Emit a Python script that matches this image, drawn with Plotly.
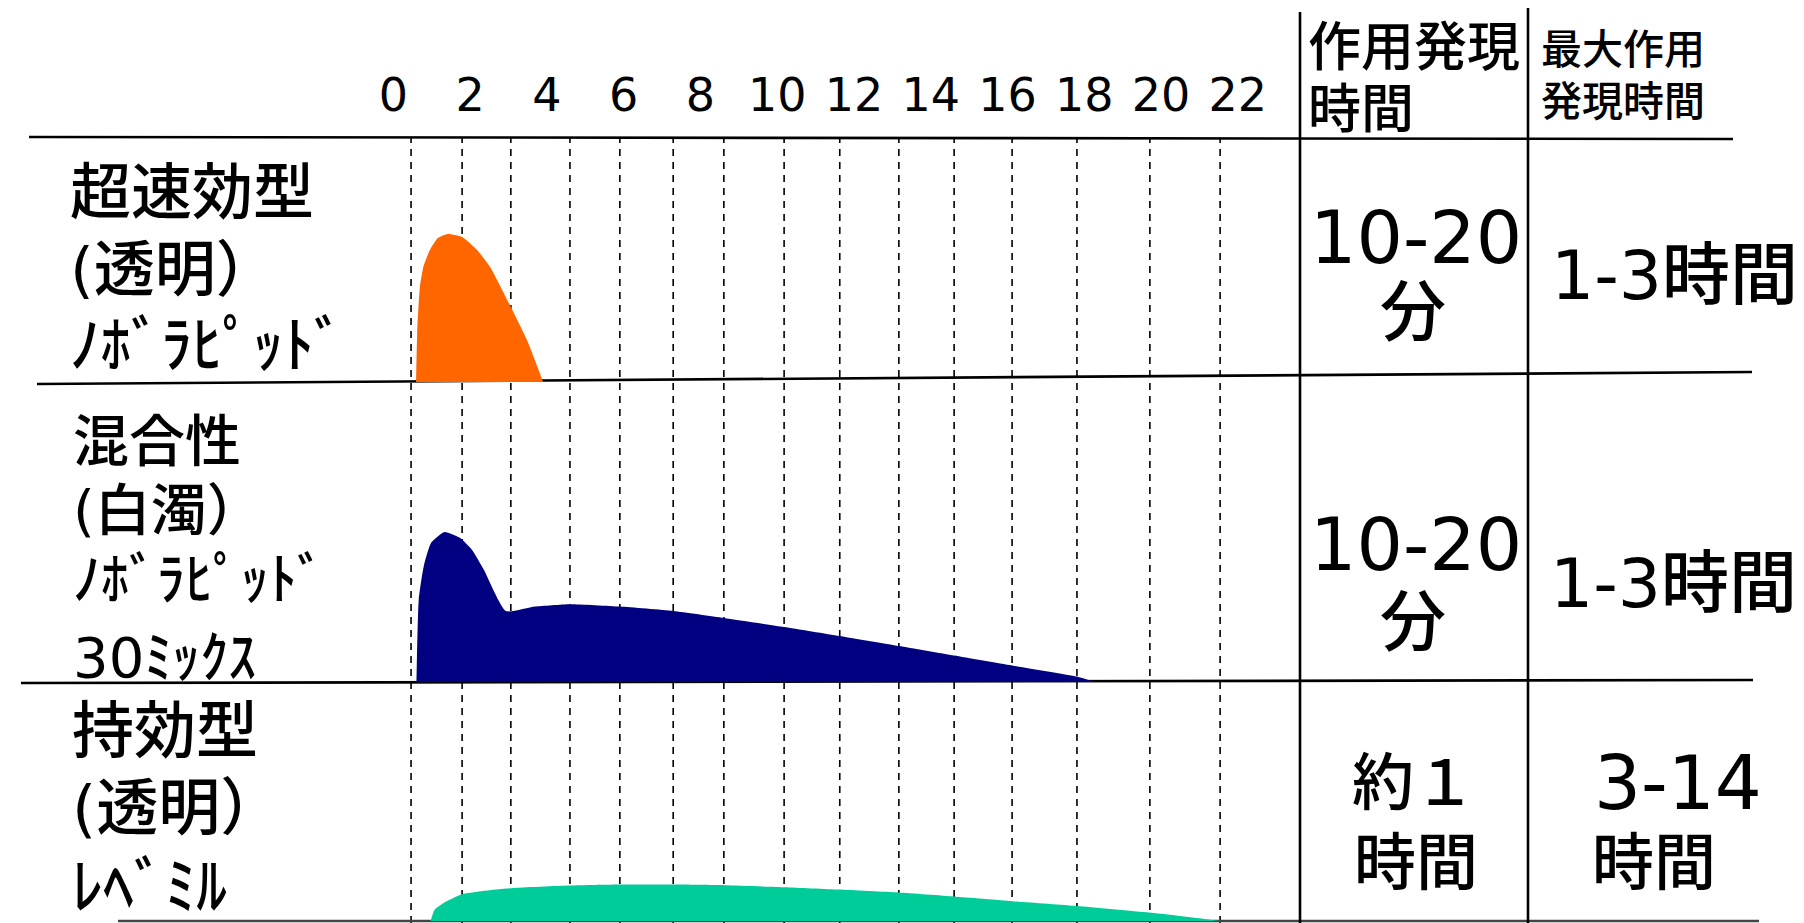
import plotly.graph_objects as go

W, H = 1804, 923

# ---------------- data ----------------
tick_hours = [0, 2, 4, 6, 8, 10, 12, 14, 16, 18, 20, 22]
tick_labels = ["0", "2", "4", "6", "8", "10", "12", "14", "16", "18", "20", "22"]

grid_hours = [0.46, 1.79, 3.06, 4.60, 5.90, 7.29, 8.61, 10.18, 11.63,
              13.17, 14.61, 16.12, 17.81, 19.71, 21.54]

# relative action curves (hours, relative effect)
rapid_t = [0.59, 0.62, 0.69, 0.78, 0.95, 1.16, 1.42, 1.79, 2.18, 2.52, 3.06, 3.48, 3.90]
rapid_v = [0.0, 0.245, 0.475, 0.575, 0.66, 0.72, 0.74, 0.725, 0.66, 0.575, 0.375, 0.21, 0.0]

mix_t = [0.60, 0.66, 0.79, 0.98, 1.33, 1.74, 2.05, 2.36, 2.93, 3.69, 4.59, 5.90,
         7.29, 8.61, 10.18, 11.62, 13.17, 14.61, 16.12, 17.80, 18.28]
mix_v = [0.0, 0.41, 0.577, 0.695, 0.75, 0.72, 0.66, 0.56, 0.355, 0.377, 0.389, 0.377,
         0.355, 0.32, 0.275, 0.23, 0.18, 0.1325, 0.0825, 0.0275, 0.0]

basal_t = [0.97, 1.07, 1.37, 1.79, 2.33, 3.08, 4.59, 5.90, 7.29, 8.63, 10.20,
           11.61, 13.17, 14.61, 16.13, 17.81, 19.69, 21.19, 21.56]
basal_v = [0.0, 0.055, 0.097, 0.134, 0.15, 0.164, 0.177, 0.182, 0.182, 0.179, 0.169,
           0.157, 0.142, 0.122, 0.099, 0.075, 0.042, 0.009, 0.0]

row_labels = [
    ["超速効型", "(透明）", "ﾉﾎﾞﾗﾋﾟｯﾄﾞ"],
    ["混合性", "(白濁）", "ﾉﾎﾞﾗﾋﾟｯﾄﾞ", "30ﾐｯｸｽ"],
    ["持効型", "(透明）", "ﾚﾍﾞﾐﾙ"],
]
onset_header = ["作用発現", "時間"]
peak_header = ["最大作用", "発現時間"]
onset_values = [["10-20", "分"], ["10-20", "分"], ["約１", "時間"]]
peak_values = [["1-3時間"], ["1-3時間"], ["3-14", "時間"]]

series_colors = ["#FF6600", "#000080", "#00CC99"]

# ---------------- layout helpers ----------------
FONT = "DejaVu Sans, Noto Sans CJK JP"


def X(px):
    return px / W


def Y(py):
    return 1 - py / H


fig = go.Figure()

# curves
curve_axes = ["y2", "y3", "y4"]
for t, v, c, ya in zip([rapid_t, mix_t, basal_t], [rapid_v, mix_v, basal_v],
                       series_colors, curve_axes):
    fig.add_trace(go.Scatter(
        x=t, y=v, xaxis="x", yaxis=ya, mode="lines",
        line=dict(width=0, color=c, shape="spline", smoothing=0.5),
        fill="tozeroy", fillcolor=c, hoverinfo="skip", showlegend=False))

# hour tick labels
fig.add_trace(go.Scatter(
    x=tick_hours, y=[99] * len(tick_hours), xaxis="x", yaxis="y",
    mode="text", text=tick_labels, textposition="middle center",
    textfont=dict(family=FONT, size=46, color="black"),
    hoverinfo="skip", showlegend=False))

shapes = []
# dashed hour grid
for g in grid_hours:
    shapes.append(dict(type="line", xref="x", yref="paper", x0=g, x1=g,
                       y0=Y(923), y1=Y(138), layer="below",
                       line=dict(color="black", width=1.6, dash="7px,6px")))

# table lines
table_lines = [
    ((29, 137), (1733, 139), "black"),
    ((37, 384), (1752, 372), "black"),
    ((21, 683), (1753, 680), "black"),
    ((118, 921), (1759, 921), "#444444"),
    ((1300, 12), (1300, 923), "black"),
    ((1528, 8), (1528, 923), "black"),
]
for (x0, y0), (x1, y1), col in table_lines:
    shapes.append(dict(type="line", xref="paper", yref="paper",
                       x0=X(x0), y0=Y(y0), x1=X(x1), y1=Y(y1), layer="below",
                       line=dict(color=col, width=2.6)))

annotations = []


def ann(text, px, py, size, xanchor="center"):
    annotations.append(dict(text=text, x=X(px), y=Y(py), xref="paper", yref="paper",
                            xanchor=xanchor, yanchor="middle", showarrow=False,
                            font=dict(family=FONT, size=size, color="black",
                                      weight=500)))


# left labels
label_x = [68, 71, 70]
label_y = [[192, 269, 345], [441, 511, 579, 657], [731, 808, 887]]
label_size = [61, 56, 62]
for lines, lx, lys, sz in zip(row_labels, label_x, label_y, label_size):
    for txt, ly in zip(lines, lys):
        ann(txt, lx, ly, sz, "left")

# headers (two-line cells)
for txt, py in zip(onset_header, [47, 109]):
    ann(txt, 1306, py, 53, "left")
for txt, py in zip(peak_header, [50, 102]):
    ann(txt, 1539, py, 41, "left")

# onset values
onset_pos = [[(1416, 237, 73), (1413, 312, 66)],
             [(1416, 544, 73), (1413, 622, 66)],
             [(1414, 783, 62), (1416, 863, 62)]]
for vals, poss in zip(onset_values, onset_pos):
    for txt, (px, py, sz) in zip(vals, poss):
        ann(txt, px, py, sz)

# peak values
peak_pos = [[(1674, 276, 68)],
            [(1673, 583, 68)],
            [(1678, 783, 74), (1654, 863, 62)]]
for vals, poss in zip(peak_values, peak_pos):
    for txt, (px, py, sz) in zip(vals, poss):
        ann(txt, px, py, sz)

# x mapping: px = 393.4 + 38.38 * hour
x0h = -393.4 / 38.38
x1h = (W - 393.4) / 38.38


def row_domain(base_px):
    return [Y(base_px), Y(base_px - 200)]


fig.update_layout(
    width=W, height=H, autosize=False,
    margin=dict(l=0, r=0, t=0, b=0, pad=0),
    paper_bgcolor="white", plot_bgcolor="rgba(0,0,0,0)",
    showlegend=False,
    xaxis=dict(domain=[0, 1], range=[x0h, x1h], visible=False, fixedrange=True),
    yaxis=dict(domain=[0, 1], range=[H, 0], visible=False, fixedrange=True),
    yaxis2=dict(domain=row_domain(382), range=[0, 1], visible=False, anchor="x"),
    yaxis3=dict(domain=row_domain(682), range=[0, 1], visible=False, anchor="x"),
    yaxis4=dict(domain=row_domain(921), range=[0, 1], visible=False, anchor="x"),
    shapes=shapes,
    annotations=annotations,
)

fig.write_html("out.html", config={"displayModeBar": False},
               post_script="document.body.style.margin='0';document.body.style.overflow='hidden';")
